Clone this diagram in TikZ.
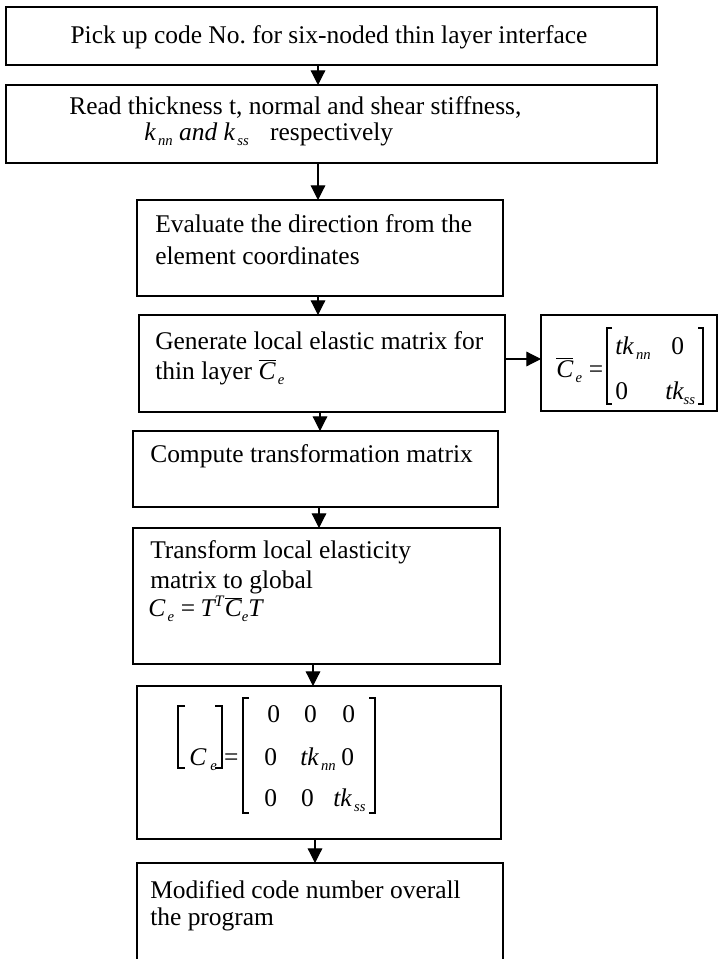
\documentclass[tikz,border=0pt]{standalone}
\usepackage{fontspec}
\setmainfont{Liberation Serif}
\usetikzlibrary{arrows.meta,fit}
\newcommand{\lsb}[1]{\raisebox{-0.45ex}{\fontsize{11}{11}\selectfont\itshape #1}}
\newcommand{\lsp}[1]{\raisebox{0.85ex}{\fontsize{12}{12}\selectfont\itshape #1}}
\newcommand{\Cbar}{$\overline{\hbox{\itshape C}}$}
\newcommand{\ital}[1]{{\itshape #1}}
\newcommand{\cell}[2]{\makebox[#1][l]{#2}}
\begin{document}
\begin{tikzpicture}[x=0.75pt,y=-0.75pt,
  box/.style={draw, line width=0.9pt, inner sep=0pt, outer sep=0pt},
  txt/.style={anchor=west, inner sep=0pt, font=\fontsize{19.1}{22.5}\selectfont},
  ent/.style={anchor=base west, inner sep=0pt, font=\fontsize{19.1}{22.5}\selectfont},
  brk/.style={line width=0.9pt},
  arr/.style={line width=0.9pt, -{Triangle[width=11pt,length=11pt]}}]
\useasboundingbox[fill=white] (0,0) rectangle (720,959);

% boxes
\node[box, fit={(6,7) (657,65)}] (b1) {};
\node[box, fit={(6,85) (657,163)}] (b2) {};
\node[box, fit={(137,200) (503,296)}] (b3) {};
\node[box, fit={(139,315) (505,412)}] (b4) {};
\node[box, fit={(541,315) (717,411)}] (bs) {};
\node[box, fit={(133,431) (498,507)}] (b5) {};
\node[box, fit={(133,528) (500,664)}] (b6) {};
\node[box, fit={(137,686) (501,839)}] (b7) {};
\node[box, fit={(137,863) (503,985)}] (b8) {};

% texts
\node[txt, anchor=center] (t1) at (329,37) {Pick up code No.\ for six-noded thin layer interface};
\node[txt] (t2a) at (69,107) {Read thickness t, normal and shear stiffness,};
\node[txt] (t2b) at (144,134) {\ital{k}\lsb{\,nn} \ital{and} \ital{k}\lsb{\,ss}\hspace{16pt}respectively};
\node[txt] (t3a) at (155,224) {Evaluate the direction from the};
\node[txt] (t3b) at (155,256) {element coordinates};
\node[txt] (t4a) at (155,341) {Generate local elastic matrix for};
\node[txt] (t4b) at (155,372) {thin layer \Cbar\lsb{\,e}};

% side box: local elastic matrix
\node[txt] (sC) at (556,370) {\Cbar\lsb{\,e}\hspace{5pt}=};
\node[ent] (sr1) at (615,354) {\cell{42pt}{\ital{tk}\lsb{\,nn}}0};
\node[ent] (sr2) at (615,399) {\cell{37.5pt}{0}\ital{tk}\lsb{ss}};
\draw[brk] (612,328) -- (607,328) -- (607,404) -- (612,404);
\draw[brk] (698,328) -- (703,328) -- (703,404) -- (698,404);

\node[txt] (t5) at (150,456) {Compute transformation matrix};
\node[txt] (t6a) at (150,552) {Transform local elasticity};
\node[txt] (t6b) at (150,582) {matrix to global};
\node[txt] (t6c) at (148,609) {\ital{C}\lsb{\,e}\hspace{5pt}=\hspace{4pt}\ital{T}\lsp{T}\hspace{1pt}\Cbar\lsb{e}\ital{T}};

% global matrix
\node[ent] (gC) at (189,765) {\ital{C}\hspace{3pt}\lsb{e}\hspace{5.6pt}=};
\draw[brk] (185,706) -- (178,706) -- (178,768) -- (185,768);
\draw[brk] (215,706) -- (222,706) -- (222,768) -- (215,768);
\draw[brk] (249,698) -- (243,698) -- (243,813) -- (249,813);
\draw[brk] (369,698) -- (375,698) -- (375,813) -- (369,813);
\node[ent] (gr1) at (267,722) {\cell{27.75pt}{0}\cell{28.5pt}{0}0};
\node[ent] (gr2) at (264,765) {\cell{27pt}{0}\cell{30.75pt}{\ital{tk}\lsb{\,nn}}0};
\node[ent] (gr3) at (264,806) {\cell{27.75pt}{0}\cell{24pt}{0}\ital{tk}\lsb{\,ss}};

\node[txt] (t8a) at (150,890) {Modified code number overall};
\node[txt] (t8b) at (150,919) {the program};

% connector x positions
\coordinate (xa) at (318,0);
\coordinate (xb) at (320,0);
\coordinate (xc) at (319,0);
\coordinate (xd) at (313,0);
\coordinate (xe) at (315,0);
\coordinate (ya) at (0,359);

\draw[arr] (b1.south -| xa) -- (b2.north -| xa);
\draw[arr] (b2.south -| xa) -- (b3.north -| xa);
\draw[arr] (b3.south -| xa) -- (b4.north -| xa);
\draw[arr] (b4.east |- ya) -- (bs.west |- ya);
\draw[arr] (b4.south -| xb) -- (b5.north -| xb);
\draw[arr] (b5.south -| xc) -- (b6.north -| xc);
\draw[arr] (b6.south -| xd) -- (b7.north -| xd);
\draw[arr] (b7.south -| xe) -- (b8.north -| xe);
\end{tikzpicture}
\end{document}
